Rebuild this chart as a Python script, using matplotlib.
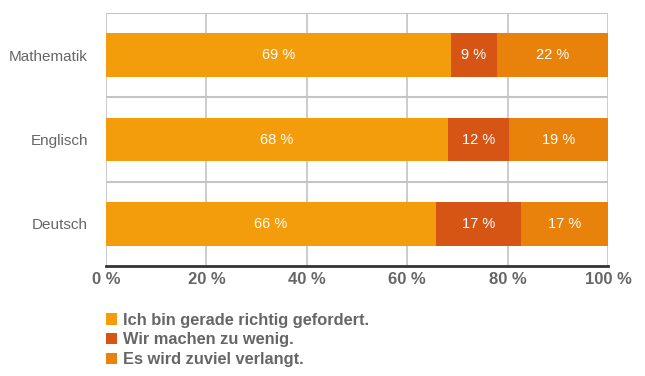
import matplotlib
matplotlib.use("Agg")
import matplotlib.pyplot as plt
from matplotlib.patches import Patch
import numpy as np

categories = ["Mathematik", "Englisch", "Deutsch"]
series_names = ["Ich bin gerade richtig gefordert.", "Wir machen zu wenig.", "Es wird zuviel verlangt."]
richtig = [68.7, 68.1, 65.7]
zu_wenig = [9.2, 12.2, 17.0]
zu_viel = [22.1, 19.7, 17.3]
labels_richtig = ["69 %", "68 %", "66 %"]
labels_wenig = ["9 %", "12 %", "17 %"]
labels_viel = ["22 %", "19 %", "17 %"]
xticks = [0, 20, 40, 60, 80, 100]
xticklabels = ["0 %", "20 %", "40 %", "60 %", "80 %", "100 %"]

colors = ["#F39C0C", "#D65515", "#E8820A"]
gray = "#666666"
fam = ["Liberation Sans Narrow", "Liberation Sans", "DejaVu Sans"]
plt.rcParams['font.family'] = fam

fig = plt.figure(figsize=(6.45, 3.76), dpi=100)
ax = fig.add_axes([106/645, 1-266/376, 502/645, 253/376])

y = np.arange(len(categories))
h = 0.52
left = np.zeros(len(categories))
for vals, labs, c in [(richtig, labels_richtig, colors[0]),
                      (zu_wenig, labels_wenig, colors[1]),
                      (zu_viel, labels_viel, colors[2])]:
    ax.barh(y, vals, left=left, height=h, color=c, zorder=3)
    for yi, l, v, lab in zip(y, left, vals, labs):
        ax.text(l + v/2, yi, lab, ha="center", va="center", color="white",
                fontsize=10.5, zorder=4)
    left = left + np.array(vals)

ax.set_xlim(0, 100)
ax.set_ylim(2.5, -0.5)
ax.set_yticks(y)
ax.set_yticklabels(categories, fontsize=11, color=gray)
ax.set_xticks(xticks)
ax.set_xticklabels(xticklabels, fontsize=12, color=gray, fontweight="bold")
ax.tick_params(axis="both", length=0)
ax.tick_params(axis="y", pad=13)
ax.tick_params(axis="x", pad=4)

for v in xticks:
    ax.axvline(v, color="#C4C4C4", lw=1.2, zorder=1)
for b in [-0.5, 0.5, 1.5]:
    ax.axhline(b, color="#C4C4C4", lw=1.5, zorder=1)

for s in ["top", "right", "left"]:
    ax.spines[s].set_visible(False)
ax.spines["bottom"].set_color("#333333")
ax.spines["bottom"].set_linewidth(2)
ax.spines["bottom"].set_zorder(5)

handles = [Patch(facecolor=c, edgecolor="none") for c in colors]
leg = fig.legend(handles, series_names, loc="upper left",
                 bbox_to_anchor=(99/645, 1-306/376), frameon=False,
                 handlelength=0.7, handleheight=0.7, handletextpad=0.35,
                 labelspacing=0.3, borderaxespad=0,
                 prop={"family": fam, "weight": "bold", "size": 11.8})
for t in leg.get_texts():
    t.set_color(gray)

fig.savefig("out.png", dpi=100)
